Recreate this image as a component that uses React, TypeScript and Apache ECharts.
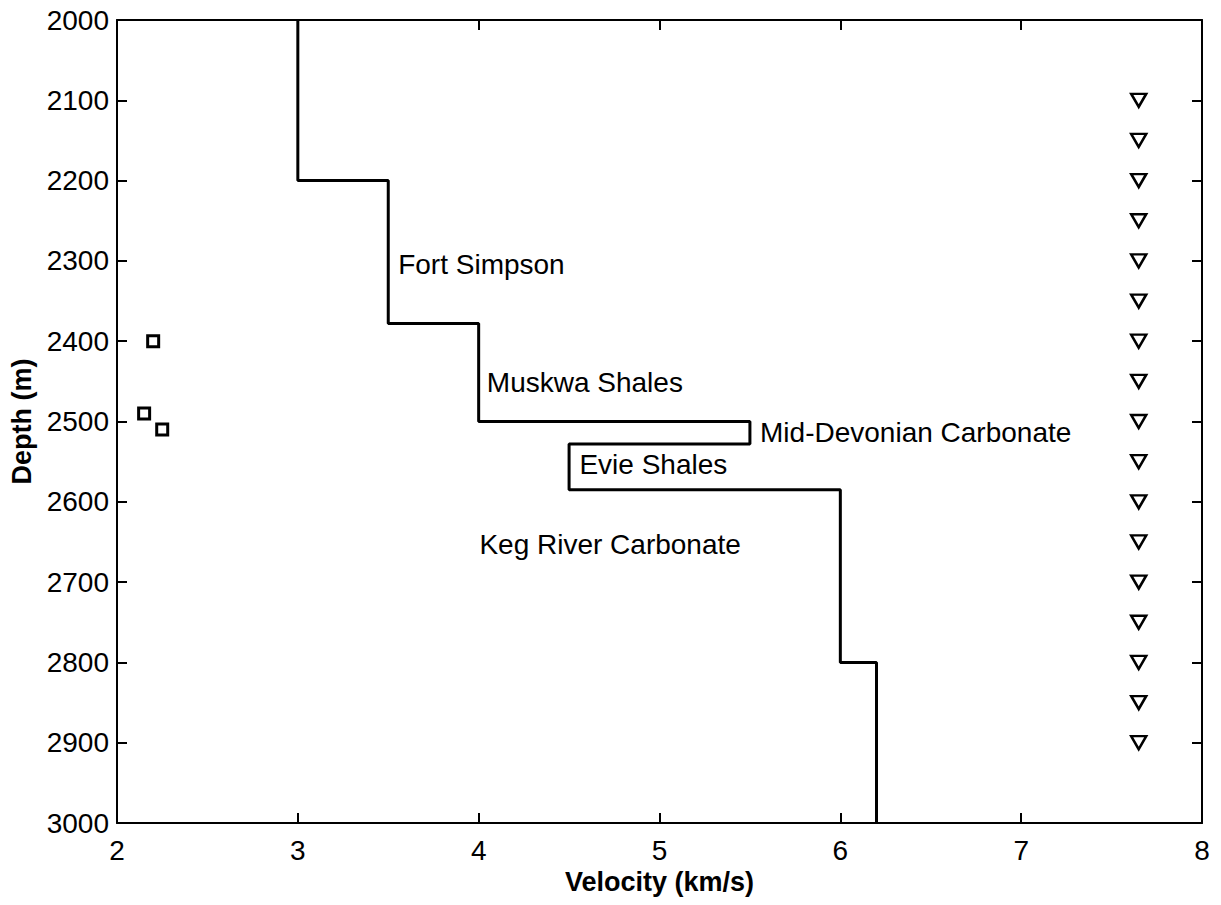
import React, { useEffect, useRef } from "react";
import * as echarts from "echarts";

// Velocity model (step profile): [velocity km/s, depth m]
const stepVelocity = [3, 3, 3.5, 3.5, 4, 4, 5.5, 5.5, 4.5, 4.5, 6, 6, 6.2, 6.2];
const stepDepth = [2000, 2200, 2200, 2378, 2378, 2500, 2500, 2528, 2528, 2585, 2585, 2800, 2800, 3000];

// Sources (squares)
const sourceVelocity = [2.2, 2.15, 2.25];
const sourceDepth = [2400, 2490, 2510];

// Receivers (triangles)
const receiverVelocity = 7.65;
const receiverDepth = [2100, 2150, 2200, 2250, 2300, 2350, 2400, 2450, 2500, 2550, 2600, 2650, 2700, 2750, 2800, 2850, 2900];

// Formation labels
const formationNames = ["Fort Simpson", "Muskwa Shales", "Mid-Devonian Carbonate", "Evie Shales", "Keg River Carbonate"];
const formationX = [3.555, 4.045, 5.556, 4.557, 4.004];
const formationY = [2305, 2452, 2514, 2554, 2653];

const FONT = "'Liberation Sans', Arial, Helvetica, sans-serif";

export default function App() {
  const ref = useRef<HTMLDivElement>(null);

  useEffect(() => {
    if (!ref.current) return;
    const chart = echarts.init(ref.current, undefined, { renderer: "svg" });
    const axisLine = { show: true, lineStyle: { color: "#000", width: 2 } };
    const axisTick = { show: true, inside: true, length: 10, lineStyle: { color: "#000", width: 2 } };
    chart.setOption({
      animation: false,
      backgroundColor: "#fff",
      grid: { left: 117, top: 20, width: 1085, height: 803, containLabel: false },
      xAxis: [
        {
          type: "value",
          position: "bottom",
          min: 2,
          max: 8,
          interval: 1,
          name: "Velocity (km/s)",
          nameLocation: "middle",
          nameGap: 44,
          nameTextStyle: { color: "#000", fontSize: 27, fontWeight: "bold", fontFamily: FONT },
          axisLine,
          axisTick,
          splitLine: { show: false },
          axisLabel: { color: "#000", fontSize: 28, fontFamily: FONT, margin: 13 },
        },
        {
          type: "value",
          position: "top",
          min: 2,
          max: 8,
          interval: 1,
          axisLine,
          axisTick,
          splitLine: { show: false },
          axisLabel: { show: false },
        },
      ],
      yAxis: [
        {
          type: "value",
          position: "left",
          inverse: true,
          min: 2000,
          max: 3000,
          interval: 100,
          name: "Depth (m)",
          nameLocation: "middle",
          nameGap: 80,
          nameTextStyle: { color: "#000", fontSize: 27, fontWeight: "bold", fontFamily: FONT },
          axisLine,
          axisTick,
          splitLine: { show: false },
          axisLabel: {
            color: "#000",
            fontSize: 28,
            fontFamily: FONT,
            margin: 8,
            formatter: (v: number) => String(v),
          },
        },
        {
          type: "value",
          position: "right",
          inverse: true,
          min: 2000,
          max: 3000,
          interval: 100,
          axisLine,
          axisTick,
          splitLine: { show: false },
          axisLabel: { show: false },
        },
      ],
      series: [
        {
          type: "line",
          xAxisIndex: 0,
          yAxisIndex: 0,
          data: stepVelocity.map((v, i) => [v, stepDepth[i]]),
          showSymbol: false,
          symbol: "none",
          lineStyle: { color: "#000", width: 3 },
          z: 3,
        },
        {
          type: "scatter",
          xAxisIndex: 0,
          yAxisIndex: 0,
          data: sourceVelocity.map((v, i) => [v, sourceDepth[i]]),
          symbol: "rect",
          symbolSize: 11,
          itemStyle: { color: "#fff", borderColor: "#000", borderWidth: 3, opacity: 1 },
        },
        {
          type: "scatter",
          xAxisIndex: 0,
          yAxisIndex: 0,
          data: receiverDepth.map((d) => [receiverVelocity, d]),
          symbol: "triangle",
          symbolRotate: 180,
          symbolSize: [15, 13],
          itemStyle: { color: "#fff", borderColor: "#000", borderWidth: 2.5, opacity: 1 },
        },
        {
          type: "scatter",
          xAxisIndex: 0,
          yAxisIndex: 0,
          symbolSize: 0,
          itemStyle: { opacity: 1 },
          data: formationNames.map((n, i) => ({ name: n, value: [formationX[i], formationY[i]] })),
          label: {
            show: true,
            formatter: "{b}",
            position: [0, 0],
            align: "left",
            verticalAlign: "middle",
            color: "#000",
            fontSize: 28,
            fontFamily: FONT,
          },
          silent: true,
          z: 5,
        },
      ],
    });
    return () => chart.dispose();
  }, []);

  return (
    <div
      ref={ref}
      style={{ position: "fixed", left: 0, top: 0, width: 1221, height: 905, background: "#fff" }}
    />
  );
}
